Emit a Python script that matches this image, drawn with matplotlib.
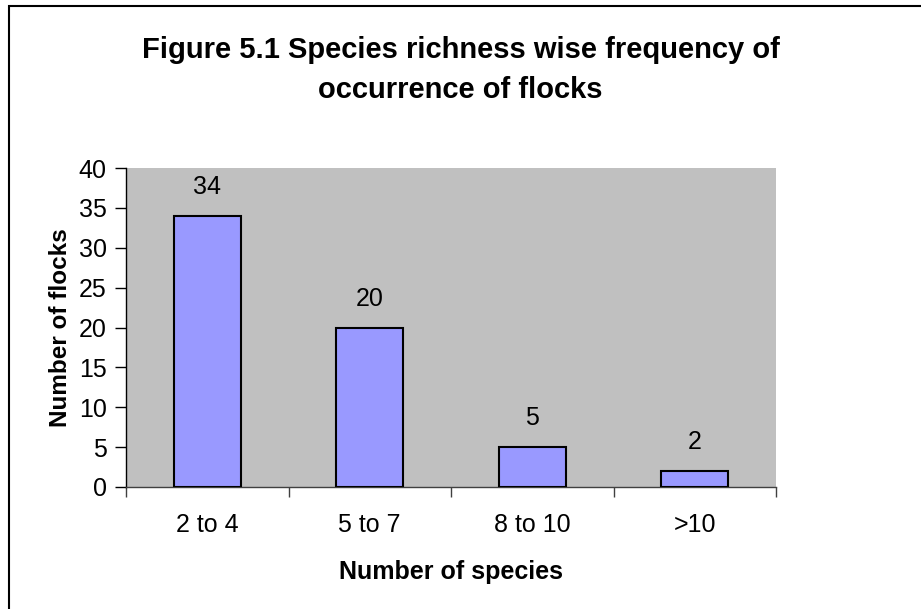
import matplotlib
matplotlib.use("Agg")
import matplotlib.pyplot as plt
from matplotlib.patches import Rectangle

categories = ["2 to 4", "5 to 7", "8 to 10", ">10"]
flocks = [34, 20, 5, 2]
y_ticks = [0, 5, 10, 15, 20, 25, 30, 35, 40]

plt.rcParams["font.family"] = ["Liberation Sans", "DejaVu Sans"]

W, H = 921, 609
fig = plt.figure(figsize=(W / 100, H / 100), dpi=100)

# outer chart frame (cut off on right and bottom in the original)
fig.patches.append(Rectangle((9 / W, -0.2), 1.2, 1.2 - 6 / H, transform=fig.transFigure,
                             fill=False, edgecolor="black", linewidth=1.5))

ax = fig.add_axes([126 / W, 1 - 487 / H, 650 / W, 319 / H])
ax.set_facecolor("#C0C0C0")

x = list(range(len(categories)))
ax.bar(x, flocks, width=0.41, color="#9999FF", edgecolor="black", linewidth=1.5, zorder=3)
for xi, v in zip(x, flocks):
    ax.text(xi, v + 2.75, str(v), ha="center", va="baseline", fontsize=18, color="black")

ax.set_xlim(-0.5, len(categories) - 0.5)
ax.set_ylim(0, 40)
ax.set_yticks(y_ticks)
ax.tick_params(axis="y", labelsize=18, length=8, width=1, direction="out", pad=6)

ax.set_xticks(x)
ax.set_xticklabels(categories, fontsize=18)
ax.tick_params(axis="x", length=0, pad=19)
ax.set_xticks([i - 0.5 for i in range(len(categories) + 1)], minor=True)
ax.tick_params(axis="x", which="minor", length=7, width=1, color="#404040")

for s in ["top", "right"]:
    ax.spines[s].set_visible(False)
ax.spines["left"].set_linewidth(1)
ax.spines["bottom"].set_linewidth(1)
ax.spines["bottom"].set_color("#404040")

ax.set_xlabel("Number of species", fontsize=18, fontweight="bold", labelpad=16)
ax.set_ylabel("Number of flocks", fontsize=17.5, fontweight="bold", labelpad=5)

fig.text(0.5, 1 - 70 / H, "Figure 5.1 Species richness wise frequency of\noccurrence of flocks",
         ha="center", va="center", fontsize=21, fontweight="bold", linespacing=1.5)

fig.savefig("out.png", dpi=100)
